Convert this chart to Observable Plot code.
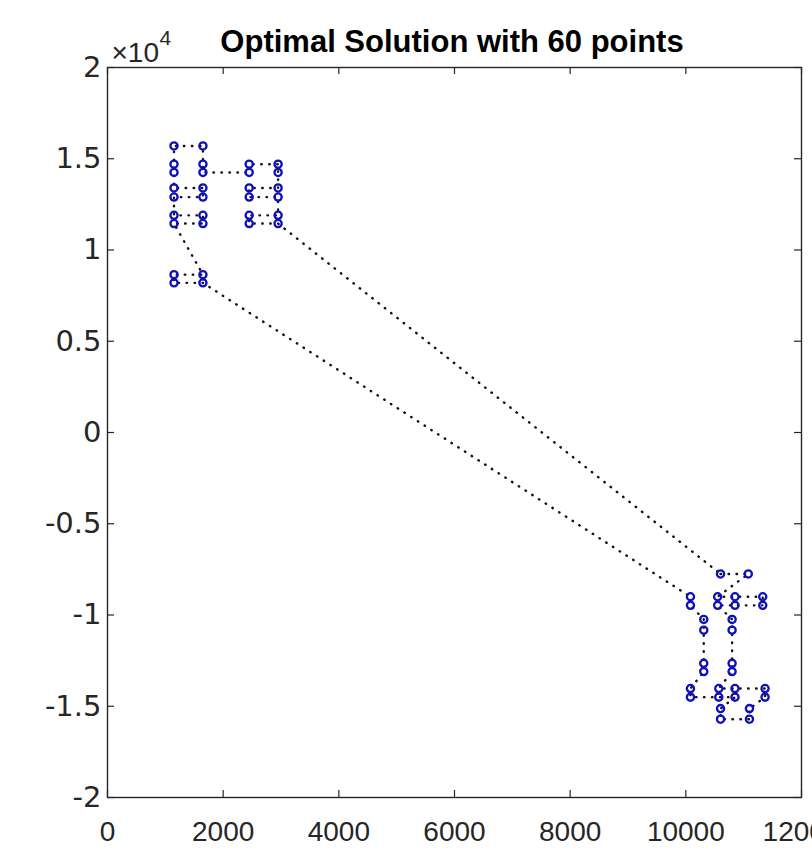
<!DOCTYPE html>
<html><head><meta charset="utf-8">
<script src="https://cdn.jsdelivr.net/npm/d3@7"></script>
<script src="https://cdn.jsdelivr.net/npm/@observablehq/plot@0.6"></script>
<style>
html,body{margin:0;padding:0;background:#fff;overflow:hidden;}
#wrap{position:relative;width:812px;height:854px;}
#title{position:absolute;left:152px;width:600px;top:27px;text-align:center;font:bold 31px "Liberation Sans",Arial,sans-serif;line-height:30px;color:#000;white-space:nowrap;}
#chart{position:absolute;left:0;top:0;}
</style></head><body>
<div id="wrap"><div id="chart"></div><div id="title">Optimal Solution with 60 points</div></div>
<script>
// Tour order (closed): visiting the 60 points
const tourX = [
  10600, 11080, 10550, 10850, 11330, 11330, 10850, 10550, 10800, 10800,
  10800, 10800, 10570, 10850, 11370, 11370, 11100, 11100, 10600, 10600,
  10850, 10570, 10080, 10080, 10310, 10310, 10310, 10310, 10080, 10080,
  1650, 1150, 1150, 1650, 1150, 1650, 1650, 1150, 1150, 1650,
  1650, 1150, 1150, 1150, 1150, 1650, 1650, 1650, 2450, 2450,
  2950, 2950, 2950, 2450, 2450, 2950, 2950, 2450, 2450, 2950
];
const tourY = [
  -7750, -7750, -9000, -9000, -9000, -9470, -9470, -9470, -10240, -10830,
  -12650, -13100, -14030, -14030, -14030, -14500, -15130, -15710, -15710, -15130,
  -14500, -14500, -14500, -14030, -13100, -12650, -10830, -10240, -9470, -9000,
  8200, 8200, 8650, 8650, 11450, 11450, 11900, 11900, 12900, 12900,
  13400, 13400, 14250, 14700, 15700, 15700, 14700, 14250, 14250, 14700,
  14700, 14250, 13400, 13400, 12900, 12900, 11900, 11900, 11450, 11450
];
const xTicks = [0, 2000, 4000, 6000, 8000, 10000, 12000];
const yTicks = [-20000, -15000, -10000, -5000, 0, 5000, 10000, 15000, 20000];
const yTickLabels = ["-2", "-1.5", "-1", "-0.5", "0", "0.5", "1", "1.5", "2"];

const W = 812, H = 854, mt = 67, mb = 57, ml = 107, mr = 11;
const innerH = H - mt - mb, innerW = W - ml - mr, tk = 7;
const axisColor = "#262626";
const idx = d3.range(tourX.length);

const chart = Plot.plot({
  width: W, height: H,
  marginTop: mt, marginBottom: mb, marginLeft: ml, marginRight: mr,
  x: {domain: [0, 12000]},
  y: {domain: [-20000, 20000]},
  style: {background: "white", color: axisColor},
  marks: [
    Plot.ruleX(xTicks, {insetTop: innerH - tk, stroke: axisColor, strokeWidth: 1.2}),
    Plot.ruleX(xTicks, {insetBottom: innerH - tk, stroke: axisColor, strokeWidth: 1.2}),
    Plot.ruleY(yTicks, {insetRight: innerW - tk, stroke: axisColor, strokeWidth: 1.2}),
    Plot.ruleY(yTicks, {insetLeft: innerW - tk, stroke: axisColor, strokeWidth: 1.2}),
    Plot.frame({stroke: axisColor, strokeWidth: 1.4}),
    Plot.axisX(xTicks, {tickSize: 0, tickPadding: 24, fontSize: 28, fontFamily: "'Liberation Sans Narrow', 'Liberation Sans', Arial, sans-serif", label: null, tickFormat: d => String(d), fill: axisColor}),
    Plot.axisY(yTicks, {tickSize: 0, tickPadding: 6, fontSize: 29, fontFamily: "'DejaVu Sans', sans-serif", label: null, tickFormat: (d) => yTickLabels[yTicks.indexOf(d)], fill: axisColor}),
    Plot.line(idx, {x: i => tourX[i], y: i => tourY[i], curve: "linear-closed", stroke: "#111", strokeWidth: 2.4, strokeDasharray: "0.5,7.5", strokeLinecap: "round"}),
    Plot.dot(idx, {x: i => tourX[i], y: i => tourY[i], r: 3.6, stroke: "#1010b8", strokeWidth: 2.3, fill: "none"}),
    Plot.text(["×10"], {frameAnchor: "top-left", dx: 4, dy: -14, textAnchor: "start", lineAnchor: "middle", fontSize: 28, fontFamily: "'Liberation Sans Narrow', 'Liberation Sans', Arial, sans-serif", fill: axisColor}),
    Plot.text(["4"], {frameAnchor: "top-left", dx: 52, dy: -29, textAnchor: "start", lineAnchor: "middle", fontSize: 21, fontFamily: "'Liberation Sans Narrow', 'Liberation Sans', Arial, sans-serif", fill: axisColor})
  ]
});
document.getElementById("chart").appendChild(chart);
</script>
</body></html>
